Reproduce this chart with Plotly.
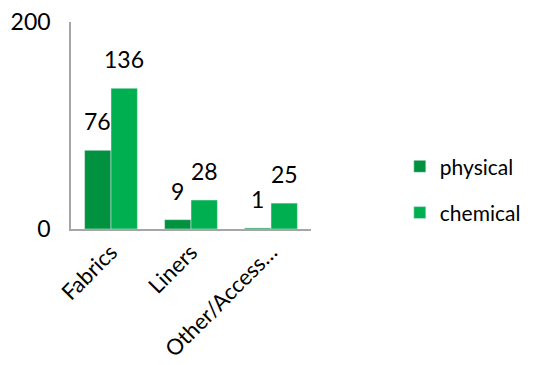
import plotly.graph_objects as go

categories = ["Fabrics", "Liners", "Other/Access…"]
physical = [76, 9, 1]
chemical = [136, 28, 25]
y_ticks = [0, 200]

dark_green = "#00923F"
light_green = "#00B050"
font_family = "Lato, 'Open Sans', sans-serif"
bar_gap = 0.34

fig = go.Figure()
fig.add_trace(go.Bar(name="physical", x=categories, y=physical,
                     marker_color=dark_green, legendgroup="p"))
fig.add_trace(go.Bar(name="chemical", x=categories, y=chemical,
                     marker_color=light_green, legendgroup="c"))

# value labels sit a little above each bar
half = (1 - bar_gap) / 4
for i, (p, c) in enumerate(zip(physical, chemical)):
    for xpos, val in ((i - half, p), (i + half, c)):
        fig.add_annotation(x=xpos, y=val, text=str(val), showarrow=False,
                           yanchor="bottom", yshift=13,
                           font=dict(size=23, color="#000000", family=font_family))

fig.update_layout(
    width=534, height=365,
    margin=dict(l=71, r=223, t=22, b=136, autoexpand=False),
    barmode="group", bargap=bar_gap, bargroupgap=0,
    plot_bgcolor="white", paper_bgcolor="white",
    font=dict(family=font_family, color="#000000"),
    legend=dict(x=1.37, y=0.19, yanchor="middle", xanchor="left",
                tracegroupgap=16, font=dict(size=21),
                itemwidth=30),
    showlegend=True,
)
fig.update_xaxes(showline=True, linecolor="#A6A6A6", linewidth=1.5,
                 tickangle=-45, tickfont=dict(size=22), ticks="",
                 showgrid=False, automargin=False)
fig.update_yaxes(range=[0, 200], tickvals=y_ticks, showline=True,
                 linecolor="#A6A6A6", linewidth=1.5, showgrid=False,
                 zeroline=False, ticks="", tickfont=dict(size=23),
                 ticklabelstandoff=14, automargin=False)

fig.write_html("out.html")
